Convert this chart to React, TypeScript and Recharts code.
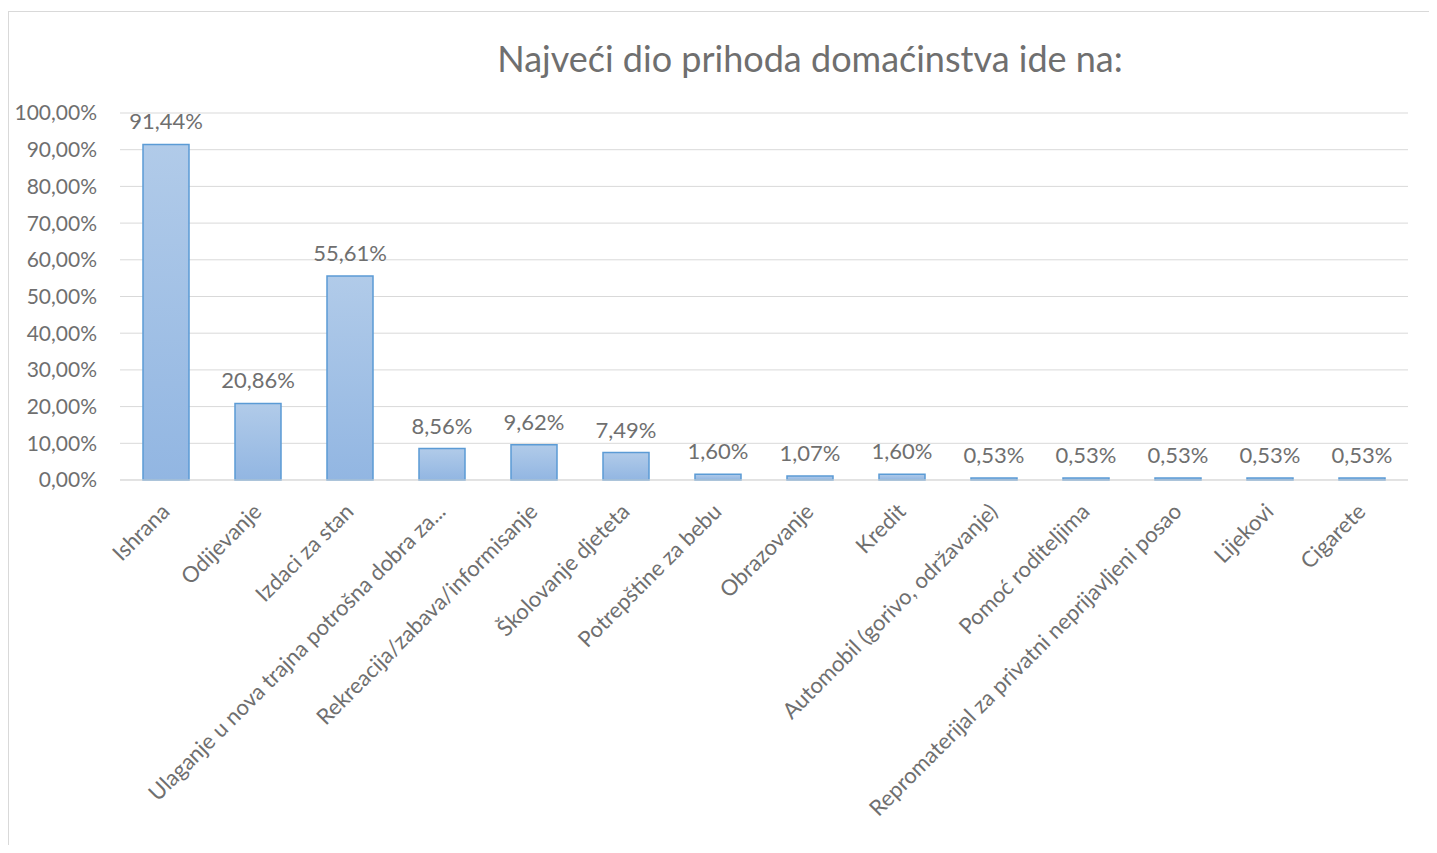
import { Bar, BarChart, CartesianGrid, LabelList, XAxis, YAxis } from "recharts";

const categories = [
  "Ishrana",
  "Odijevanje",
  "Izdaci za stan",
  "Ulaganje u nova trajna potrošna dobra za...",
  "Rekreacija/zabava/informisanje",
  "Školovanje djeteta",
  "Potrepštine za bebu",
  "Obrazovanje",
  "Kredit",
  "Automobil (gorivo, održavanje)",
  "Pomoć roditeljima",
  "Repromaterijal za privatni neprijavljeni posao",
  "Lijekovi",
  "Cigarete",
];

const shares = [91.44, 20.86, 55.61, 8.56, 9.62, 7.49, 1.6, 1.07, 1.6, 0.53, 0.53, 0.53, 0.53, 0.53];

const yTicks = [0, 10, 20, 30, 40, 50, 60, 70, 80, 90, 100];

const title = "Najveći dio prihoda domaćinstva ide na:";

const data = categories.map((name, i) => ({ name, value: shares[i] }));

const FONT = "Lato, 'Open Sans', sans-serif";
const TEXT = "#6f6f6f";

const pct = (v: number) => `${Number(v).toFixed(2).replace(".", ",")}%`;

// rotated category label, its baseline ends just below the bar centre
function CategoryTick(props: any) {
  const { x, y, payload } = props;
  return (
    <g transform={`translate(${x + 5},${y + 25})`}>
      <text transform="rotate(-45)" textAnchor="end" fill={TEXT} fontSize={22} fontFamily={FONT}>
        {payload.value}
      </text>
    </g>
  );
}

export default function App() {
  return (
    <div
      style={{
        marginTop: 3,
        width: 1421,
        height: 834,
        boxSizing: "border-box",
        borderLeft: "1px solid #d9d9d9",
        borderTop: "1px solid #d9d9d9",
        overflow: "hidden",
      }}
    >
      <BarChart
        width={1420}
        height={830}
        data={data}
        margin={{ top: 101, right: 21, left: 0, bottom: 0 }}
        barCategoryGap="25%"
      >
        <defs>
          <linearGradient id="barFill" x1="0" y1="0" x2="0" y2="1">
            <stop offset="0%" stopColor="#b1cbe9" />
            <stop offset="100%" stopColor="#92b6e2" />
          </linearGradient>
        </defs>
        <text x={801} y={60} textAnchor="middle" fill={TEXT} fontSize={36} fontFamily={FONT}>
          {title}
        </text>
        <CartesianGrid stroke="#d9d9d9" vertical={false} />
        <XAxis
          dataKey="name"
          interval={0}
          height={362}
          tickLine={false}
          axisLine={{ stroke: "#d9d9d9" }}
          tick={<CategoryTick />}
        />
        <YAxis
          width={111}
          domain={[0, 100]}
          ticks={yTicks}
          tickFormatter={pct}
          tickLine={false}
          axisLine={false}
          tickSize={0}
          tickMargin={23}
          tick={{ fill: TEXT, fontSize: 21, fontFamily: FONT }}
        />
        <Bar
          dataKey="value"
          fill="url(#barFill)"
          stroke="#5b9bd5"
          strokeWidth={1.5}
          isAnimationActive={false}
        >
          <LabelList
            dataKey="value"
            position="top"
            offset={15}
            formatter={(v: any) => pct(v)}
            fill={TEXT}
            fontSize={22}
            fontFamily={FONT}
          />
        </Bar>
      </BarChart>
    </div>
  );
}
